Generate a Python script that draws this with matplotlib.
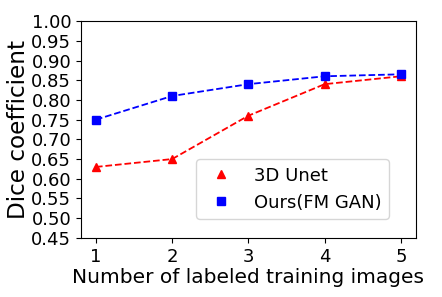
import matplotlib
matplotlib.use('Agg')
import matplotlib.pyplot as plt

# Data
n_images = [1, 2, 3, 4, 5]
unet_dice = [0.63, 0.65, 0.76, 0.84, 0.86]
fmgan_dice = [0.75, 0.81, 0.84, 0.86, 0.865]
yticks = [0.45, 0.50, 0.55, 0.60, 0.65, 0.70, 0.75, 0.80, 0.85, 0.90, 0.95, 1.00]

fig, ax = plt.subplots(figsize=(4.42, 2.97), dpi=100)
fig.subplots_adjust(left=0.183, right=0.941, top=0.929, bottom=0.199)

# dashed lines, markers on top (legend only shows markers)
ax.plot(n_images, unet_dice, 'r--', linewidth=1.3)
ax.plot(n_images, fmgan_dice, 'b--', linewidth=1.3)
ax.plot(n_images, unet_dice, 'r^', markersize=6, label='3D Unet')
ax.plot(n_images, fmgan_dice, 'bs', markersize=6, label='Ours(FM GAN)')

ax.set_ylim(0.45, 1.0)
ax.set_xlim(0.803, 5.197)
ax.set_yticks(yticks)
ax.set_xticks(n_images)
ax.tick_params(labelsize=13)
ax.set_xlabel('Number of labeled training images', fontsize=14.5, labelpad=2)
ax.set_ylabel('Dice coefficient', fontsize=16.7, labelpad=1)
ax.legend(loc='lower right', fontsize=13, numpoints=1, markerscale=0.85,
          bbox_to_anchor=(0.919, 0.088), borderaxespad=0)

fig.savefig('out.png', dpi=100)
